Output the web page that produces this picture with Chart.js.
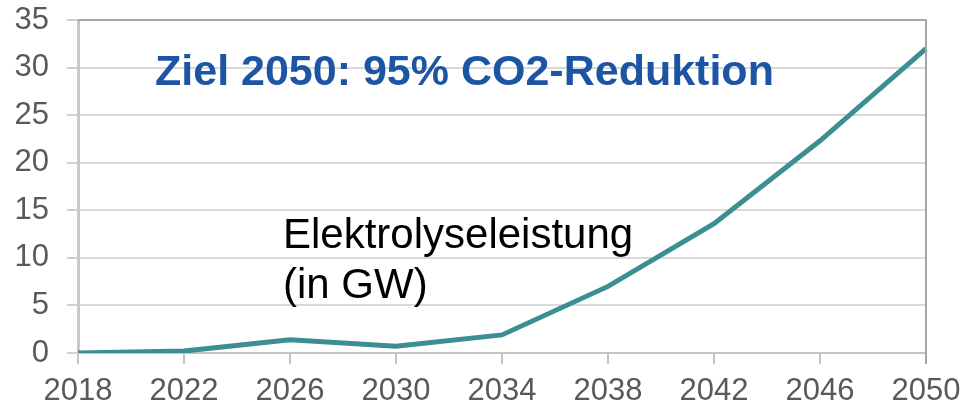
<!DOCTYPE html>
<html>
<head>
<meta charset="utf-8">
<script src="https://cdn.jsdelivr.net/npm/chart.js@4.4.1/dist/chart.umd.min.js"></script>
<style>
    html, body { margin: 0; padding: 0; background: #fff; }
    #wrap { width: 980px; height: 407px; }
</style>
</head>
<body>
<div id="wrap"><canvas id="elyChart"></canvas></div>
<script>
// Jahre und installierte Elektrolyseleistung in GW
const years = ['2018', '2022', '2026', '2030', '2034', '2038', '2042', '2046', '2050'];
const capacityGW = [0, 0.2, 1.4, 0.7, 1.9, 7.0, 13.6, 22.3, 32.0];
const yTicks = [0, 5, 10, 15, 20, 25, 30, 35];

const headline = 'Ziel 2050: 95% CO2-Reduktion';
const seriesNote = ['Elektrolyseleistung', '(in GW)'];

const FONT = '"Liberation Sans", Arial, sans-serif';

// Rahmen oben/rechts plus Beschriftungen im Diagramm
const frameAndText = {
    id: 'frameAndText',
    afterDraw(chart) {
        const { ctx, chartArea } = chart;
        ctx.save();
        ctx.strokeStyle = '#a6a6a6';
        ctx.lineWidth = 2;
        ctx.beginPath();
        ctx.moveTo(chartArea.left, chartArea.top);
        ctx.lineTo(chartArea.right, chartArea.top);
        ctx.lineTo(chartArea.right, chartArea.bottom + 11);
        ctx.stroke();

        ctx.fillStyle = '#1c55a3';
        ctx.font = 'bold 43px ' + FONT;
        ctx.textBaseline = 'alphabetic';
        ctx.fillText(headline, 155, 85);

        ctx.fillStyle = '#000';
        ctx.font = '42px ' + FONT;
        ctx.fillText(seriesNote[0], 283, 248);
        ctx.fillText(seriesNote[1], 283, 298);
        ctx.restore();
    }
};

const ctx = document.getElementById('elyChart').getContext('2d');
new Chart(ctx, {
    type: 'line',
    data: {
        labels: years,
        datasets: [{
            data: capacityGW,
            borderColor: '#3b8f93',
            borderWidth: 5,
            pointRadius: 0,
            tension: 0,
            fill: false
        }]
    },
    options: {
        responsive: true,
        maintainAspectRatio: false,
        animation: false,
        layout: {
            padding: { top: 20, right: 54, left: 0, bottom: 0 }
        },
        plugins: {
            legend: { display: false },
            tooltip: { enabled: false }
        },
        scales: {
            x: {
                offset: false,
                grid: {
                    drawOnChartArea: false,
                    drawTicks: true,
                    tickLength: 11,
                    color: '#c4c4c4',
                    lineWidth: 2
                },
                border: { color: '#c4c4c4', width: 2 },
                ticks: {
                    color: '#595959',
                    font: { family: FONT, size: 31 },
                    padding: 9,
                    maxRotation: 0,
                    autoSkip: false
                },
                afterFit: (scale) => {
                    scale.height = 54;
                    scale.paddingLeft = 0;
                    scale.paddingRight = 0;
                }
            },
            y: {
                min: 0,
                max: 35,
                afterBuildTicks: (scale) => {
                    scale.ticks = yTicks.map(v => ({ value: v }));
                },
                grid: {
                    color: '#d9d9d9',
                    lineWidth: 2,
                    tickLength: 11,
                    tickColor: '#d0d0d0'
                },
                border: { color: '#c8c8c8', width: 3 },
                ticks: {
                    color: '#595959',
                    font: { family: FONT, size: 31 },
                    padding: 18
                },
                afterFit: (scale) => {
                    scale.width = 78;
                    scale.paddingTop = 0;
                    scale.paddingBottom = 0;
                }
            }
        }
    },
    plugins: [frameAndText]
});
</script>
</body>
</html>
